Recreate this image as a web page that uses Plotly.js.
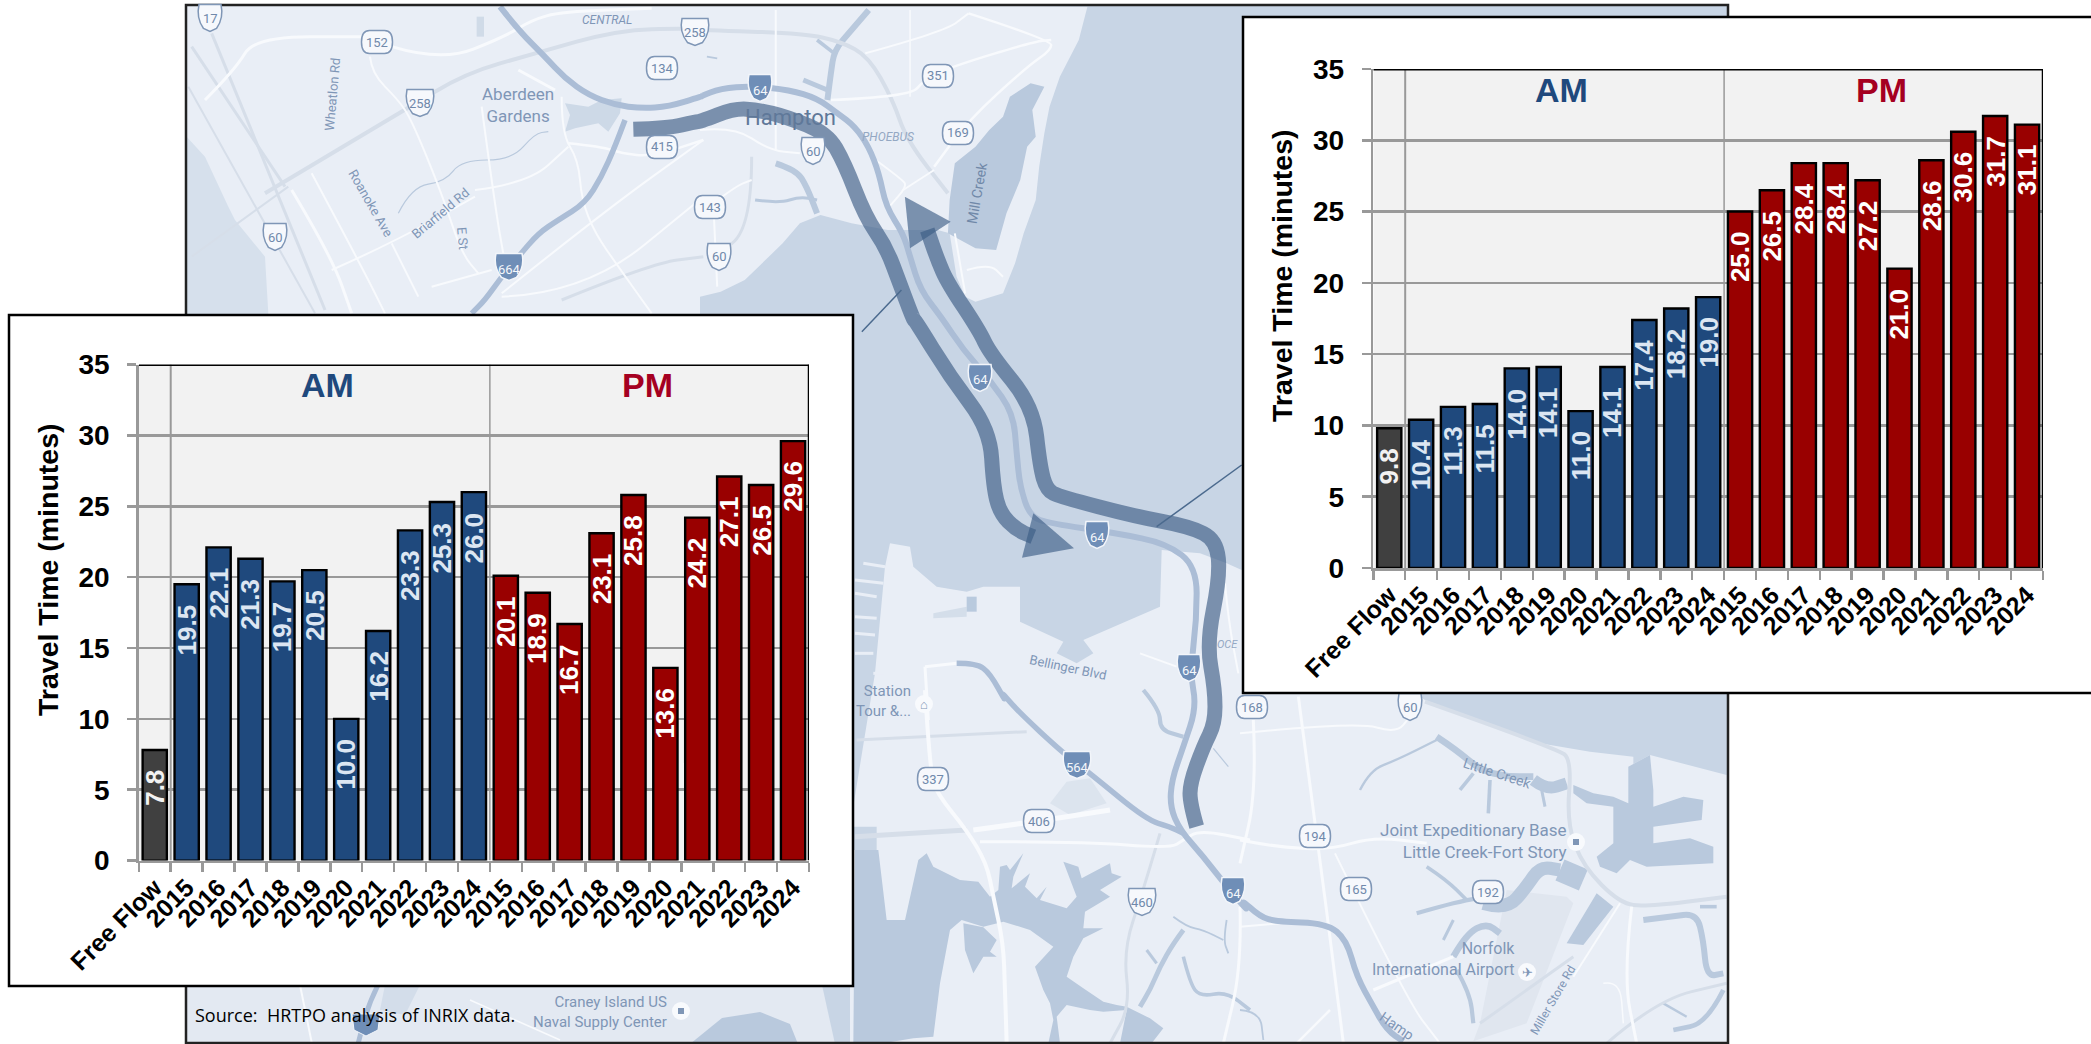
<!DOCTYPE html>
<html><head><meta charset="utf-8">
<script src="https://cdn.plot.ly/plotly-3.0.1.min.js"></script>
<style>html,body{margin:0;padding:0;background:#fff;overflow:hidden}</style></head>
<body><div id="chart" style="width:2091px;height:1044px"></div>
<script>
// ---------- chart data ----------
const categories = ['Free Flow','2015','2016','2017','2018','2019','2020','2021','2022','2023','2024','2015','2016','2017','2018','2019','2020','2021','2022','2023','2024'];
const periods    = ['free','am','am','am','am','am','am','am','am','am','am','pm','pm','pm','pm','pm','pm','pm','pm','pm','pm'];
const westbound  = [7.8,19.5,22.1,21.3,19.7,20.5,10.0,16.2,23.3,25.3,26.0,20.1,18.9,16.7,23.1,25.8,13.6,24.2,27.1,26.5,29.6];
const eastbound  = [9.8,10.4,11.3,11.5,14.0,14.1,11.0,14.1,17.4,18.2,19.0,25.0,26.5,28.4,28.4,27.2,21.0,28.6,30.6,31.7,31.1];
const yTicks     = [0,5,10,15,20,25,30,35];
const yTitle     = 'Travel Time (minutes)';
const sourceNote = 'Source:  HRTPO analysis of INRIX data.';

// ---------- palette ----------
const barColor  = {free:'#404040', am:'#1F497D', pm:'#990000'};
const textColor = {free:'#F2F2F2', am:'#DCE6F2', pm:'#FFFFFF'};
const FONT = '"Liberation Sans", Arial, sans-serif';
const LAND='#E9EEF6', BAY='#C8D5E5', CREEK='#B9C9DD', HWY='#ABBDD6', WHITE='#F8FAFD', GREYRD='#D6DEE9', LBL='#7F96B6';

// ---------- page geometry (pixels) ----------
const W=2091, H=1044;
const px=x=>x/W, py=y=>1-y/H;
const frames={a:[185,0,3,3],b:[700,0,2.904,3],c:[850,320,3,3],d:[850,690,3,3],e:[1240,690,3,3],p:[0,0,1,1]};
function pts(s){const o=[];s.split('|').forEach(seg=>{const f=frames[seg[0]];seg.slice(2).trim().split(/\s+/).forEach(p=>{const [x,y]=p.split(',').map(Number);o.push([f[0]+x/f[2],f[1]+y/f[3]]);});});return o;}
const pp=p=>px(p[0]).toFixed(5)+' '+py(p[1]).toFixed(5);
function polyPath(P,close){return 'M'+P.map(pp).join(' L')+(close?' Z':'');}
function smoothPath(P){let d='M'+pp(P[0]);for(let i=1;i<P.length-1;i++){const m=[(P[i][0]+P[i+1][0])/2,(P[i][1]+P[i+1][1])/2];d+=' Q'+pp(P[i])+' '+pp(m);}return d+' L'+pp(P[P.length-1]);}
const shapes=[], annos=[];
const fillPoly=(s,c,op)=>shapes.push({type:'path',xref:'paper',yref:'paper',layer:'below',path:polyPath(pts(s),true),fillcolor:c,opacity:op==null?1:op,line:{width:0}});
const stroke=(s,c,w,op)=>shapes.push({type:'path',xref:'paper',yref:'paper',layer:'below',path:smoothPath(pts(s)),fillcolor:'rgba(0,0,0,0)',opacity:op==null?1:op,line:{color:c,width:w}});
const rectPx=(x0,y0,x1,y1,fill,lc,lw)=>shapes.push({type:'rect',xref:'paper',yref:'paper',layer:'below',x0:px(x0),x1:px(x1),y0:py(y0),y1:py(y1),fillcolor:fill,line:lc?{color:lc,width:lw}:{width:0}});
const label=(x,y,t,o={})=>annos.push(Object.assign({xref:'paper',yref:'paper',x:px(x),y:py(y),text:t,showarrow:false,xanchor:'center',yanchor:'middle',font:{family:'Roboto, sans-serif',size:o.size||14,color:o.color||LBL,style:o.style||'normal'}},o.extra||{},o.angle!=null?{textangle:o.angle}:{}));

// ---------- map base ----------
rectPx(185,5,1728,1044,BAY);
// north peninsula
fillPoly('b:1125,20 1100,120 1045,230 1015,320 1000,400 985,500 975,600 940,700 915,790 880,880 800,905 770,890 745,830 725,700 690,690 600,690 545,690 440,670 350,645 290,670 240,730 130,840 60,875 0,890 0,1000|a:0,940 0,0 0,15 1500,15|b:600,15',LAND);
// south side
fillPoly('c:120,670 180,680 190,740 260,800 350,815 400,800 510,800 510,905 640,965 620,1000 680,1030 730,1000 700,960 930,860 935,690 1050,700 1130,730 1175,750|e:555,30 700,85 900,160 1050,185 1180,200 1180,222 1165,230 1230,195 1460,255 1462,1060|d:0,1060 0,480 80,480 80,410 0,410|c:75,1060 105,740',LAND);
// strip below the left panel
fillPoly('p:185,985 822,985 835,1044 185,1044','#E3E9F2');
fillPoly('p:690,1044 722,1018 760,1012 790,1024 798,1044',CREEK);
fillPoly('p:385,985 420,985 405,1015 380,1010','#D3DDEA');
stroke('p:378,985 368,1005 358,1044',HWY,5);
shapes.push({type:'path',xref:'paper',yref:'paper',layer:'below',path:polyPath(pts('p:352,1014 380,1014 378,1030 366,1036 354,1030'),true),fillcolor:'#6F8EB7',line:{color:'#F2F5FA',width:1}});
stroke('p:300,985 312,1044',WHITE,2);
stroke('p:470,1000 560,1040',WHITE,1.5);
// James River side on the left
fillPoly('a:5,410 60,470 130,620 150,660 240,770 250,942 5,942',"#D6E0EC");
// Elizabeth River, Lafayette River
fillPoly('d:15,480 85,480 110,690 165,690 205,510 230,490 250,530 330,570 385,575 420,620 445,600 450,530 470,525 480,540 520,490 490,560 485,595 540,550 525,590 560,625 590,590 570,630 650,655 680,620 640,515 685,530 695,565 780,520 785,550 815,560 750,600 780,620 705,665 700,715 760,715 700,745 670,800 650,860 700,895 760,935 800,945 830,950 900,985 940,1015 905,1060 810,1060 830,960 760,965 720,960 650,945 620,980 630,1060 595,1060 610,990 600,940 580,900 555,830 610,770 540,720 460,695 400,710 335,690 300,720 270,880 250,1040 190,1045 100,1060 10,1060',CREEK);
fillPoly('d:340,700 400,712 440,750 420,785 440,800 400,800 370,850 345,780',CREEK);
// Mill Creek
fillPoly('b:720,700 725,600 740,490 800,440 840,390 880,350 900,290 960,250 1000,260 965,330 975,410 950,440 930,540 890,640 860,750 800,745',CREEK);
// Little Creek basin
fillPoly('e:1000,285 1060,310 1120,320 1165,340 1165,230 1230,195 1240,300 1240,350 1330,320 1390,330 1385,390 1240,410 1240,460 1350,445 1420,470 1420,520 1220,530 1170,510 1130,550 1080,530 1070,500 1120,460 1120,350 1040,340 1000,310',CREEK);
// marsh patches
fillPoly('a:1140,310 1210,320 1250,300 1310,295 1305,340 1270,395 1240,370 1170,385 1140,395 1155,345','#CDD9E7');
fillPoly('a:875,50 897,50 897,110 875,110','#D0DBE8');
fillPoly('e:800,600 980,620 1000,640 860,1000 700,1054 720,1000','#E0E6EF');
fillPoly('e:980,760 1030,765 1120,650 1070,610',CREEK);
fillPoly('c:250,880 350,860 350,890 250,895','#D4DEEA');
fillPoly('c:350,830 380,830 380,875 350,875','#B9CADE');
fillPoly('d:600,340 650,275 720,265 770,340 660,375','#DCE4EE');
// creeks
[['d:970,680 1010,710 1060,720 1120,750',3],['d:1130,690 1120,750 1135,790',3],['d:1000,720 970,760 930,830 900,900 870,950',8],['d:1000,800 1020,880 1050,920 1130,905 1200,960',6],
 ['d:890,780 920,820',5],['d:880,0 930,60 930,120 1000,140',7],['d:1090,175 1135,230',2],
 ['b:490,30 440,90 390,150 380,220 370,300',10],['b:340,120 390,160',6],['b:300,240 370,270',8],['b:220,490 280,510 310,560 340,640',10],['b:160,600 230,610 290,590 340,600',5],['b:20,170 50,175',3],
 ['a:640,640 680,560 780,545 830,480 980,480 1050,400 1090,395',2],
 ['e:360,300 390,240 470,210 590,150',4],['e:590,140 650,180 720,240 800,260 880,260',11],['e:880,270 920,300 980,280',20],['e:750,270 745,370',6],['e:700,250 660,300',6],['e:905,300 915,350',5],
 ['e:530,670 600,650 680,630 740,620',7],['e:560,530 620,570 680,630',6],['e:610,750 640,690',5],['e:730,640 800,660 860,590 900,530 960,540',22],['e:960,540 1030,570',38],
 ['e:640,800 680,730 740,700 780,730',11],['e:650,840 690,910 700,1000',7],['e:1210,690 1290,680 1370,670 1390,750 1400,860 1450,850',10],['e:1380,650 1430,650',6],['e:1450,900 1400,1000 1300,1020',8],['e:1270,940 1340,980',4],
 ['e:0,960 60,965 70,1050',3]].forEach(c=>stroke(c[0],CREEK,c[1]*0.6));
// grey double roads
[['a:240,580 660,330 840,220 1050,160 1300,90 1500,85|b:0,90 300,100 410,125 490,170 560,300 600,420 720,580',4],['a:20,770 310,560',2],['a:20,140 300,560',3],['a:80,100 420,930',3],['a:10,260 390,940',2],
 ['a:1130,900 1400,790 1555,770',3],['b:150,470 150,700 20,770',3],['d:930,430 880,600 820,780 840,950 780,1060',3],['d:20,150 530,125',3],['d:15,440 350,420',5],
 ['e:555,35 950,175 995,210 980,400 1030,530 1140,640 1220,650 1460,620',4],['e:720,1000 1000,800',3],['e:1100,1060 1250,930 1460,880',3]].forEach(c=>stroke(c[0],GREYRD,c[1]));
// white roads
[['a:60,300 150,210 210,110 540,110',3],['a:620,140 770,185 960,110 1040,60 1130,35 1400,25',3],['a:555,170 560,220 640,300 680,360 770,580 830,760 880,820',2],['a:1000,210 1110,270',3],['a:320,570 440,770 500,940',3],
 ['a:890,320 930,620 960,790',2],['a:1130,290 1130,400 1180,480 1190,600 1230,700 1300,800 1400,940',2],['a:1150,430 1250,440 1310,460 1400,470 1555,420',2.5],['a:870,570 1030,550 1150,440',2],['a:440,810 620,730 870,590',2],
 ['a:380,520 530,800 600,940',2],['a:620,730 700,890',2],['a:740,860 920,810',2],['a:950,880 1250,640 1555,420',2],['a:950,890 1200,880 1555,590',2],
 ['b:480,160 710,95 780,40',2],['b:780,40 1020,120 1020,150 950,200 780,360 680,500',2.5],['b:380,300 610,290 650,240 730,200 970,125 1020,120',2.5],['b:220,30 220,450',2],['b:0,390 100,380 200,450 290,460',2],['b:510,480 590,540 600,560 550,620',2],['b:590,570 680,510',2],['b:40,640 50,860',2],['b:0,640 100,560 150,540',2],['b:610,30 610,290',1.5],['b:740,700 770,880',2],['b:775,810 840,790 880,830',2],
 ['d:225,0 240,240 260,310 350,420 410,520 430,620 460,760 465,900 470,1060',4],['d:370,420 520,400 780,360',5],['d:390,455 700,455 960,475 1000,450 1050,420 1200,450',3],['c:225,1040 320,1030',3],['c:225,1040 235,1200',3],['d:1170,650 1175,830 1120,1060',3],
 ['c:870,1000 980,1040',2],['c:1125,790 1135,900 1165,1060',2],
 ['e:175,20 230,430 290,900 310,1060',3],['e:40,90 50,300 0,520',3],['e:0,130 350,95 470,130 510,80',2],['e:0,450 100,470 270,480 400,440 560,460',3],['e:285,490 500,930 600,1060',2],['e:0,710 120,700',2],['e:270,960 170,1060',2.5],['e:400,900 640,800',3],['e:1175,650 1150,860 1190,1060',3],['e:1000,860 1140,640',2],['e:1090,880 1140,870 1150,1000',1.5]].forEach(c=>stroke(c[0],WHITE,c[1]));
// pier stripes
['c:15,820 80,830','c:15,780 100,790','c:40,730 105,740','c:15,890 80,895','c:15,940 75,945','c:15,1000 70,1000','c:70,1060 105,1060'].forEach(s=>stroke(s,'#E9EEF6',3));
// highways
stroke('a:945,20 1000,90 1080,170 1140,235 1210,285 1290,315 1370,325 1450,320 1555,288|b:0,290 60,265 150,258 260,270 340,295 400,340 450,380 490,440 520,520 540,620 590,700 610,770 640,870 700,950|c:340,90 420,180 490,280 500,400 510,500 540,590 600,610 800,640 950,670 1040,740 1040,900 1020,1060|d:1040,50 1000,170 965,270 960,350 990,420 1060,500 1130,590 1200,670|e:0,625 60,680 110,695 260,700 320,750 350,860 400,950 440,1020 490,1054',HWY,6);
stroke('a:1320,360 1290,440 1250,530 1200,610 1120,660 1060,700 1000,770 950,830 900,900 860,940',HWY,5.5);
stroke('c:320,1030 380,1030 420,1060 470,1150|d:450,0 500,60 640,190 720,250 890,390 960,410 1000,430',HWY,5.5);
// route arrows
const ROUTE='#3C5C85', ROP=0.64;
stroke('a:1345,388 1450,385 1530,365|b:0,365 100,325 170,330 250,350 370,400 420,490 480,650 540,740 580,850 620,960|c:195,0 300,170 420,330 430,500 450,580 500,630 550,650',ROUTE,15,ROP);
fillPoly('c:550,580 672,685 516,713',ROUTE,ROP);
stroke('d:1040,410 1020,340 1020,280 1060,170 1095,100 1095,0|c:1070,970 1110,770 1100,660 1020,620 860,590 630,530 590,510 570,440 550,260 420,100|b:810,990 720,850 690,780 660,690',ROUTE,15,ROP);
fillPoly('b:595,590 728,665 610,745',ROUTE,ROP);
stroke('b:585,870 470,995','#4B6A8E',1.5);
stroke('c:920,620 1175,435','#4B6A8E',1.5);
// map frame
rectPx(186,5,1728,1043,'rgba(0,0,0,0)','#222',2.5);

// ---------- shields ----------
function shield(x,y,t,kind){
  const w=t.length>2?(kind==='state'?31:30):26, h=kind==='state'?23:27, l=x-w/2,r=x+w/2,a=y-h/2,b=y+h/2;
  let d;
  if(kind==='state'){const q=8; const P=[[l+q,a],[r-q,a]];
    d='M'+pp(P[0])+' L'+pp(P[1])+' Q'+pp([r,a])+' '+pp([r,y])+' Q'+pp([r,b])+' '+pp([r-q,b])+' L'+pp([l+q,b])+' Q'+pp([l,b])+' '+pp([l,y])+' Q'+pp([l,a])+' '+pp([l+q,a])+' Z';}
  else {d='M'+pp([l+2,a])+' L'+pp([r-2,a])+' Q'+pp([r+1,y])+' '+pp([x+w/4,b-3])+' L'+pp([x,b])+' L'+pp([x-w/4,b-3])+' Q'+pp([l-1,y])+' '+pp([l+2,a])+' Z';}
  const blue=kind==='inter';
  shapes.push({type:'path',xref:'paper',yref:'paper',layer:'below',path:d,fillcolor:blue?'#6F8EB7':'#F6F8FC',line:{color:blue?'#F2F5FA':'#7F96B6',width:1.5}});
  label(x,y+(blue?2:0),t,{size:13,color:blue?'#F4F7FB':'#7089AB'});
}
[['152',377,42],['134',662,68],['415',662,147],['351',938,76],['169',958,133],['143',710,207],['337',933,779],['406',1039,821],['168',1252,707],['194',1315,836],['165',1356,889],['192',1488,892]].forEach(s=>shield(s[1],s[2],s[0],'state'));
[['258',420,103],['258',695,32],['60',275,237],['17',210,18],['60',813,151],['60',719,257],['60',1410,707],['460',1142,902]].forEach(s=>shield(s[1],s[2],s[0],'us'));
[['664',509,267],['64',760,88],['64',980,378],['64',1097,535],['64',1189,668],['564',1077,765],['64',1233,891]].forEach(s=>shield(s[1],s[2],s[0],'inter'));

// ---------- map labels ----------
label(518,105,'Aberdeen<br>Gardens',{size:17});
label(607,20,'CENTRAL',{size:12,style:'italic'});
label(790,118,'Hampton',{size:22,color:'#5F7899'});
label(888,137,'PHOEBUS',{size:12,style:'italic',color:'#94A8C3'});
label(977,193,'Mill Creek',{size:14,angle:-80,color:'#7088A8'});
label(333,95,'Wheatlon Rd',{size:13,angle:-85});
label(370,203,'Roanoke Ave',{size:13,angle:60});
label(440,213,'Briarfield Rd',{size:13,angle:-40});
label(463,238,'E St',{size:13,angle:85});
label(1068,667,'Bellinger Blvd',{size:13,angle:12});
label(883,701,'Station<br>Tour &...',{size:15,extra:{align:'right'}});
label(1473,841,'Joint Expeditionary Base<br>Little Creek-Fort Story',{size:17,extra:{align:'right'}});
label(1497,773,'Little Creek',{size:14,angle:18});
label(1443,959,'Norfolk<br>International Airport',{size:16,extra:{align:'right'}});
label(600,1012,'Craney Island US<br>Naval Supply Center',{size:15,extra:{align:'right'}});
label(1553,1000,'Miller Store Rd',{size:12,angle:-60});
label(1397,1026,'Hamp',{size:14,angle:35});
label(1227,644,'OCE',{size:11,style:'italic',color:'#94A8C3'});
[[924,704],[1576,842],[1527,972],[681,1011]].forEach(c=>shapes.push({type:'circle',xref:'paper',yref:'paper',layer:'below',x0:px(c[0]-9),x1:px(c[0]+9),y0:py(c[1]-9),y1:py(c[1]+9),fillcolor:'#F8FAFD',line:{width:0}}));
[[1576,842],[681,1011]].forEach(c=>rectPx(c[0]-3,c[1]-3,c[0]+3,c[1]+3,'#7F96B6'));
[[1527,972,'✈'],[924,704,'⌂']].forEach(c=>label(c[0],c[1],c[2],{size:13}));
label(355,1015,sourceNote,{size:18,color:'#000',extra:{font:{family:'"Open Sans", sans-serif',size:18,color:'#000'}}});

// ---------- white panels ----------
rectPx(9,315,853,986,'#FFFFFF','#000',2.5);
rectPx(1243,17,2095,693,'#FFFFFF','#000',2.5);

// ---------- charts ----------
const xIdx=categories.map((_,i)=>i);
const edges=[-0.5].concat(xIdx.map(i=>i+0.5));
function chart(suffix,vals,box){
  const xa='x'+suffix, ya='y'+suffix;
  const xk='xaxis'+suffix, yk='yaxis'+suffix;
  const trace={type:'bar',x:xIdx,y:vals,xaxis:xa,yaxis:ya,marker:{color:periods.map(p=>barColor[p]),line:{color:'#000',width:2.4}},hoverinfo:'skip',width:0.76};
  const ax={};
  ax[xk]={domain:[px(box.l),px(box.r)],range:[-0.5,20.5],anchor:ya,tickmode:'array',tickvals:xIdx,ticktext:categories,tickangle:-45,ticks:'',ticklen:11,
    tickfont:{family:FONT,size:25,color:'#000',weight:700},showline:true,linecolor:'#999',linewidth:2.5,showgrid:false,zeroline:false,fixedrange:true,
    minor:{tickmode:'array',tickvals:edges,ticks:'outside',ticklen:9,tickwidth:2.5,tickcolor:'#999',showgrid:false}};
  ax[yk]={domain:[py(box.b),py(box.t)],range:[0,35],anchor:xa,tickmode:'array',tickvals:yTicks,ticks:'outside',ticklen:9,tickwidth:2.5,tickcolor:'#999',ticklabelstandoff:12,
    tickfont:{family:FONT,size:28,color:'#000',weight:700},showline:true,linecolor:'#999',linewidth:2.5,gridcolor:'#999',gridwidth:2.5,zeroline:false,fixedrange:true};
  Object.assign(layout,ax);
  annos.push({xref:'paper',yref:'paper',x:px(box.tx),y:py(box.ty),text:yTitle,showarrow:false,textangle:-90,xanchor:'center',yanchor:'middle',font:{family:FONT,size:28.5,color:'#000',weight:700}});
  // plot area and separators
  shapes.push({type:'rect',xref:xa,yref:ya,layer:'below',x0:-0.5,x1:20.5,y0:0,y1:35,fillcolor:'#F2F2F2',line:{width:0}});
  [0.5,10.5].forEach(s=>shapes.push({type:'line',xref:xa,yref:ya,layer:'below',x0:s,x1:s,y0:0,y1:35,line:{color:'#999',width:s<1?2:1.5}}));
  shapes.push({type:'line',xref:xa,yref:ya,layer:'above',x0:-0.5,x1:20.5,y0:35,y1:35,line:{color:'#000',width:3}});
  shapes.push({type:'line',xref:xa,yref:ya,layer:'above',x0:20.5,x1:20.5,y0:0,y1:35,line:{color:'#000',width:2.5}});
  // data labels
  vals.forEach((v,i)=>annos.push({xref:xa,yref:ya,x:i,y:v,yshift:-18,text:v.toFixed(1),showarrow:false,textangle:-90,xanchor:'center',yanchor:'top',
    font:{family:FONT,size:26,color:textColor[periods[i]],weight:700}}));
  [['AM',5.4,'#1F497D'],['PM',15.45,'#A50021']].forEach(h=>annos.push({xref:xa,yref:ya,x:h[1],y:33.55,text:h[0],showarrow:false,xanchor:'center',yanchor:'middle',
    font:{family:'"Liberation Sans Narrow", "Liberation Sans", sans-serif',size:34,color:h[2],weight:700}}));
  return trace;
}
const layout={width:W,height:H,margin:{l:0,r:0,t:0,b:0,pad:0},paper_bgcolor:'#FFFFFF',plot_bgcolor:'rgba(0,0,0,0)',showlegend:false,barmode:'overlay',font:{family:FONT},shapes:shapes,annotations:annos};
const data=[
  chart('',westbound,{l:138.8,r:809,t:364.6,b:860.6,tx:48,ty:570}),
  chart('2',eastbound,{l:1373.3,r:2043,t:69,b:568,tx:1282,ty:276})
];
Plotly.newPlot('chart',data,layout,{staticPlot:true,displayModeBar:false});
</script></body></html>
